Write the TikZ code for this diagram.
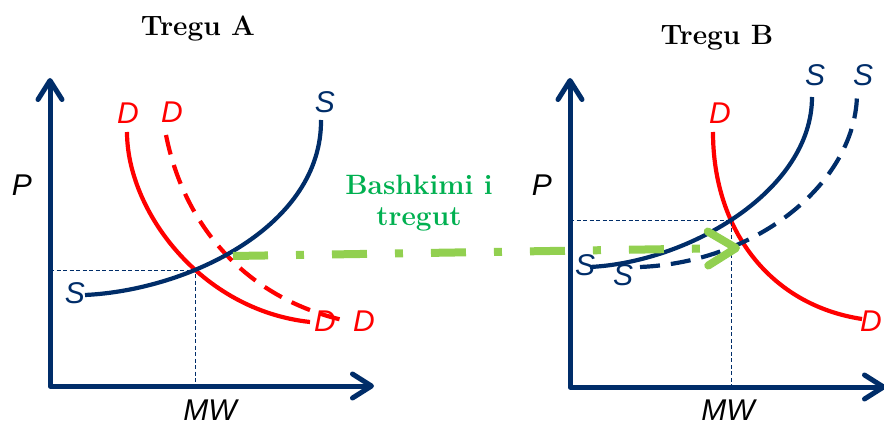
\documentclass[tikz,border=0pt]{standalone}
\usepackage{fontspec}
\setsansfont{Liberation Sans}
\usetikzlibrary{arrows.meta,intersections}
\begin{document}
\begin{tikzpicture}[x=1pt,y=-1pt,
    axis/.style={draw=navy, line width=5pt, line join=round,
        {Straight Barb[round,length=19pt,width=24pt]}-{Straight Barb[round,length=19pt,width=24pt]}},
    curve/.style={line width=4.2pt},
    shifted/.style={curve, dash pattern=on 20pt off 11pt},
    guide/.style={draw=navy, line width=0.7pt, dash pattern=on 4pt off 2.5pt},
    lbl/.style={font=\fontsize{30}{36}\selectfont\sffamily\itshape, inner sep=0pt},
    title/.style={font=\fontsize{28}{31}\selectfont\bfseries, inner sep=0pt}]
    % Define colors
    \definecolor{navy}{RGB}{0, 45, 105}
    \definecolor{dred}{RGB}{255, 0, 0}
    \definecolor{mergeline}{RGB}{146, 208, 80}
    \definecolor{mergetext}{RGB}{0, 176, 80}

    \useasboundingbox (0,0) rectangle (884,425);

    % Titles
    \node[title, anchor=base] (A-title) at (198,36) {Tregu A};
    \node[title, anchor=base] (B-title) at (717,45) {Tregu B};

    % Market A - axes
    \coordinate (A-o) at (50,386);
    \coordinate (A-y) at (50,78);
    \coordinate (A-x) at (374,386);
    \draw[axis] (A-y) -- (A-o) -- (A-x);
    \node[lbl] (A-P) at (22,185) {P};
    \node[lbl] (A-MW) at (210,410) {MW};

    % Market A - curves
    \coordinate (A-s0) at (85,295);
    \coordinate (A-s1) at (321,120);
    \coordinate (A-d0) at (127,132);
    \coordinate (A-d1) at (310,322);
    \coordinate (A-e0) at (166,135);
    \coordinate (A-e1) at (347,321);
    \draw[shifted, dred] (A-e0) .. controls (185,230) and (250,300) .. (A-e1);
    \draw[curve, dred, name path=A-D] (A-d0) .. controls (127,210) and (200,310) .. (A-d1);
    \draw[curve, navy, name path=A-S] (A-s0) .. controls (190,290) and (322,225) .. (A-s1);
    \path[name intersections={of=A-S and A-D, by=A-eq}];
    \draw[guide] (A-o |- A-eq) -- (A-eq) -- (A-eq |- A-o);

    % Market A - curve labels
    \node[lbl, text=navy] (A-S1) at (325,102) {S};
    \node[lbl, text=navy] (A-S0) at (75,293) {S};
    \node[lbl, text=dred] (A-D0) at (128,113) {D};
    \node[lbl, text=dred] (A-E0) at (172,112) {D};
    \node[lbl, text=dred] (A-D1) at (325,321) {D};
    \node[lbl, text=dred] (A-E1) at (364,321) {D};

    % Market B - axes
    \coordinate (B-o) at (570,387);
    \coordinate (B-y) at (570,78);
    \coordinate (B-x) at (886,387);
    \draw[axis] (B-y) -- (B-o) -- (B-x);
    \node[lbl] (B-P) at (542,185) {P};
    \node[lbl] (B-MW) at (728,410) {MW};

    % Market B - curves
    \coordinate (B-s0) at (590,267);
    \coordinate (B-s1) at (812,97);
    \coordinate (B-t0) at (640,267);
    \coordinate (B-t1) at (857,93);
    \coordinate (B-d0) at (713,132);
    \coordinate (B-d1) at (862,319);
    \draw[curve, dred, name path=B-D] (B-d0) .. controls (713,230) and (770,305) .. (B-d1);
    \draw[shifted, navy] (B-t0) .. controls (760,262) and (857,180) .. (B-t1);
    \draw[curve, navy, name path=B-S] (B-s0) .. controls (690,262) and (812,190) .. (B-s1);
    \path[name intersections={of=B-S and B-D, by=B-eq}];
    \draw[guide] (B-o |- B-eq) -- (B-eq) -- (B-eq |- B-o);

    % Market B - curve labels
    \node[lbl, text=navy] (B-S1) at (815,75) {S};
    \node[lbl, text=navy] (B-T1) at (863,75) {S};
    \node[lbl, text=navy] (B-S0) at (585,265) {S};
    \node[lbl, text=navy] (B-T0) at (623,275) {S};
    \node[lbl, text=dred] (B-D0) at (720,113) {D};
    \node[lbl, text=dred] (B-D1) at (871,321) {D};

    % Market merger
    \node[title, text=mergetext, align=center] (merge) at (419,203) {Bashkimi i\\tregut};
    \coordinate (m-start) at (233,256);
    \coordinate (m-end) at (740,248);
    \draw[mergeline, line width=8pt, dash pattern=on 35pt off 28pt on 8pt off 28pt,
        -{Straight Barb[round,length=28pt,width=34pt]}] (m-start) -- (m-end);
\end{tikzpicture}
\end{document}
